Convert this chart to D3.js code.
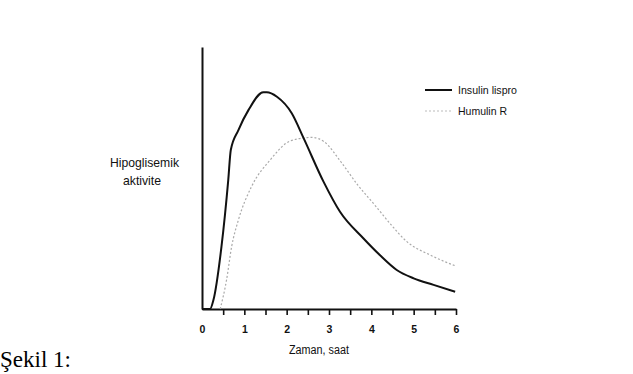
<!DOCTYPE html>
<html>
<head>
<meta charset="utf-8">
<script src="https://cdn.jsdelivr.net/npm/d3@7"></script>
<style>
  body { margin: 0; background: #fff; }
  svg { display: block; }
  .lbl { font-family: "Liberation Sans Narrow", "Arial Narrow", "Liberation Sans", sans-serif; fill: #111; }
</style>
</head>
<body>
<div id="chart"></div>
<script>
/**
 * DATA (hours vs. relative hypoglycemic activity, 0-100)
 * */
const lisproHours = [0, 0.19, 0.27, 0.46, 0.62, 0.68, 0.86, 1.10, 1.45, 1.53, 1.77, 2.12, 2.40, 2.87, 3.26, 3.81, 4.20, 4.60, 5.00, 5.47, 5.98];
const lisproValues = [0, 0, 3.4, 23.8, 49.2, 60.7, 68.3, 76.0, 82.7, 82.7, 81.0, 74.7, 65.2, 48.6, 37.1, 27.0, 20.6, 14.9, 11.7, 9.2, 6.6];

const humulinHours = [0.43, 0.58, 0.70, 0.86, 1.17, 1.61, 2.08, 2.48, 2.59, 2.88, 3.28, 3.68, 4.08, 4.47, 4.84, 5.39, 5.98];
const humulinValues = [0, 11.1, 23.8, 34.0, 46.7, 56.9, 64.1, 65.4, 65.5, 63.9, 56.2, 47.3, 39.7, 32.1, 25.7, 20.6, 16.5];

const xTicks = [0, 0.5, 1, 1.5, 2, 2.5, 3, 3.5, 4, 4.5, 5, 5.5, 6];
const seriesNames = ["Insulin lispro", "Humulin R"];

const width = 633, height = 374;

const svg = d3.select("#chart").append("svg")
  .attr("width", width)
  .attr("height", height);

const x = d3.scaleLinear().domain([0, 6]).range([202, 456]);
const y = d3.scaleLinear().domain([0, 100]).range([309, 47]);

// axes
const xAxis = svg.append("g")
  .attr("transform", `translate(0,${y(0)})`)
  .call(d3.axisBottom(x)
    .tickValues(xTicks)
    .tickSize(6)
    .tickSizeOuter(0)
    .tickPadding(11)
    .tickFormat(d => Number.isInteger(d) ? d : ""));
xAxis.select(".domain").attr("stroke", "#111").attr("stroke-width", 2);
xAxis.selectAll(".tick line").attr("stroke", "#111").attr("stroke-width", 1.6)
  .filter(d => d === 0).remove();
xAxis.selectAll(".tick text")
  .attr("class", "lbl")
  .attr("font-size", 10.5)
  .attr("font-weight", "bold");

const yAxis = svg.append("g")
  .attr("transform", `translate(${x(0)},0)`)
  .call(d3.axisLeft(y).tickValues([]).tickSizeOuter(0));
yAxis.select(".domain").attr("stroke", "#111").attr("stroke-width", 2);

// lines
const line = d3.line()
  .x(d => x(d[0]))
  .y(d => y(d[1]))
  .curve(d3.curveMonotoneX);

svg.append("path")
  .datum(humulinHours.map((h, i) => [h, humulinValues[i]]))
  .attr("fill", "none")
  .attr("stroke", "#aaa")
  .attr("stroke-width", 1.2)
  .attr("stroke-dasharray", "2,2")
  .attr("d", line);

svg.append("path")
  .datum(lisproHours.map((h, i) => [h, lisproValues[i]]))
  .attr("fill", "none")
  .attr("stroke", "#111")
  .attr("stroke-width", 2)
  .attr("d", line);

// legend
const legendWidths = [59, 49];
const legend = svg.append("g").attr("transform", "translate(425,90)");
legend.selectAll("line")
  .data(seriesNames)
  .join("line")
  .attr("x1", 0).attr("x2", 27)
  .attr("y1", (d, i) => i * 21).attr("y2", (d, i) => i * 21)
  .attr("stroke", (d, i) => i ? "#bbb" : "#111")
  .attr("stroke-width", (d, i) => i ? 1 : 2)
  .attr("stroke-dasharray", (d, i) => i ? "2,2" : null);
legend.selectAll("text")
  .data(seriesNames)
  .join("text")
  .attr("class", "lbl")
  .attr("x", 33)
  .attr("y", (d, i) => i * 21)
  .attr("dy", "0.35em")
  .attr("font-size", 11.5)
  .attr("textLength", (d, i) => legendWidths[i])
  .attr("lengthAdjust", "spacingAndGlyphs")
  .text(d => d);

// axis titles
svg.append("text")
  .attr("class", "lbl")
  .attr("x", 110).attr("y", 162)
  .attr("dy", "0.35em")
  .attr("font-size", 13)
  .attr("textLength", 69)
  .attr("lengthAdjust", "spacingAndGlyphs")
  .text("Hipoglisemik");
svg.append("text")
  .attr("class", "lbl")
  .attr("x", 123).attr("y", 180)
  .attr("dy", "0.35em")
  .attr("font-size", 13)
  .attr("textLength", 38)
  .attr("lengthAdjust", "spacingAndGlyphs")
  .text("aktivite");

svg.append("text")
  .attr("class", "lbl")
  .attr("x", 289).attr("y", 350)
  .attr("dy", "0.35em")
  .attr("font-size", 12)
  .attr("textLength", 60)
  .attr("lengthAdjust", "spacingAndGlyphs")
  .text("Zaman, saat");

// figure caption
svg.append("text")
  .attr("x", 0).attr("y", 367)
  .attr("font-family", "'Liberation Serif', 'Times New Roman', serif")
  .attr("font-size", 23)
  .attr("fill", "#000")
  .text("Şekil 1:");
</script>
</body>
</html>
